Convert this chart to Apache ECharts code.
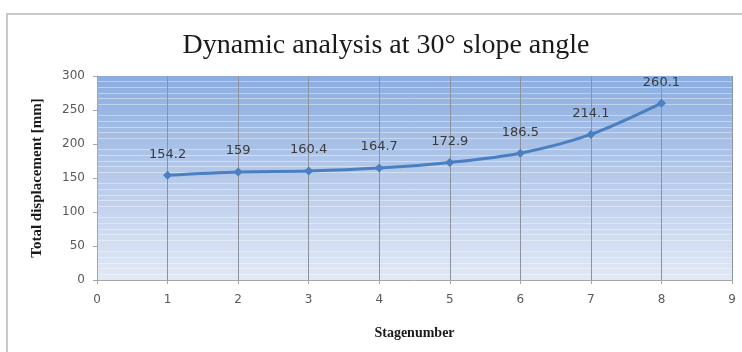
<!DOCTYPE html>
<html>
<head>
<meta charset="utf-8">
<script src="https://cdn.jsdelivr.net/npm/echarts@6/dist/echarts.min.js"></script>
<style>
html, body { margin: 0; padding: 0; background: #fff; }
#chart { width: 742px; height: 352px; }
</style>
</head>
<body>
<div id="chart"></div>
<script>
// Stage numbers and the total displacement reached at each stage (mm)
const stages = [1, 2, 3, 4, 5, 6, 7, 8];
const displacement = [154.2, 159, 160.4, 164.7, 172.9, 186.5, 214.1, 260.1];
const xTicks = [0, 1, 2, 3, 4, 5, 6, 7, 8, 9];
const yTicks = [0, 50, 100, 150, 200, 250, 300];

const chart = echarts.init(document.getElementById('chart'), null, { renderer: 'canvas' });

const points = stages.map((s, i) => [s, displacement[i]]);

chart.setOption({
  animation: false,
  backgroundColor: '#ffffff',
  graphic: [{
    type: 'rect',
    z: -1,
    shape: { x: 7, y: 14, width: 800, height: 400 },
    style: { fill: 'none', stroke: '#c9c9c9', lineWidth: 2 }
  }],
  title: {
    text: 'Dynamic analysis at 30° slope angle',
    left: 381,
    textAlign: 'center',
    top: 27,
    textStyle: {
      fontFamily: 'Liberation Serif',
      fontWeight: 'normal',
      fontSize: 28,
      color: '#1a1a1a'
    }
  },
  grid: {
    left: 97,
    right: 10,
    top: 76,
    bottom: 72,
    show: true,
    borderWidth: 0,
    backgroundColor: new echarts.graphic.LinearGradient(0, 0, 0, 1, [
      { offset: 0, color: '#8aade0' },
      { offset: 0.5, color: '#b7caea' },
      { offset: 1, color: '#e2e9f6' }
    ])
  },
  xAxis: {
    type: 'value',
    min: xTicks[0],
    max: xTicks[xTicks.length - 1],
    interval: 1,
    name: 'Stagenumber',
    nameLocation: 'middle',
    nameGap: 46,
    nameTextStyle: {
      fontFamily: 'Liberation Serif',
      fontWeight: 'bold',
      fontSize: 14,
      color: '#1a1a1a'
    },
    axisLine: { show: true, lineStyle: { color: '#a6a6a6', width: 1 } },
    axisTick: { show: true, length: 4, lineStyle: { color: '#a6a6a6' } },
    axisLabel: {
      margin: 14,
      fontFamily: 'DejaVu Sans',
      fontSize: 12,
      color: '#595959'
    },
    splitLine: { show: true, lineStyle: { color: '#8c939e', width: 1 } }
  },
  yAxis: {
    type: 'value',
    min: yTicks[0],
    max: yTicks[yTicks.length - 1],
    interval: 50,
    name: 'Total displacement [mm]',
    nameLocation: 'middle',
    nameGap: 52,
    nameTextStyle: {
      fontFamily: 'Liberation Serif',
      fontWeight: 'bold',
      fontSize: 15,
      color: '#1a1a1a'
    },
    axisLine: { show: true, lineStyle: { color: '#a6a6a6', width: 1 } },
    axisTick: { show: true, length: 4, lineStyle: { color: '#a6a6a6' } },
    axisLabel: {
      margin: 12,
      fontFamily: 'DejaVu Sans',
      fontSize: 12,
      color: '#595959'
    },
    splitLine: { show: false },
    minorTick: { show: false, splitNumber: 6 },
    minorSplitLine: { show: true, lineStyle: { color: 'rgba(255,255,255,0.4)', width: 1 } }
  },
  series: [{
    type: 'line',
    data: points,
    smooth: 0.3,
    symbol: 'diamond',
    symbolSize: 9,
    lineStyle: { color: '#4a7fc1', width: 3 },
    itemStyle: { color: '#4a7fc1' },
    label: {
      show: true,
      position: 'top',
      distance: 10,
      fontFamily: 'DejaVu Sans',
      fontSize: 13,
      color: '#3a3a3a',
      formatter: p => String(p.value[1])
    }
  }]
});
</script>
</body>
</html>
